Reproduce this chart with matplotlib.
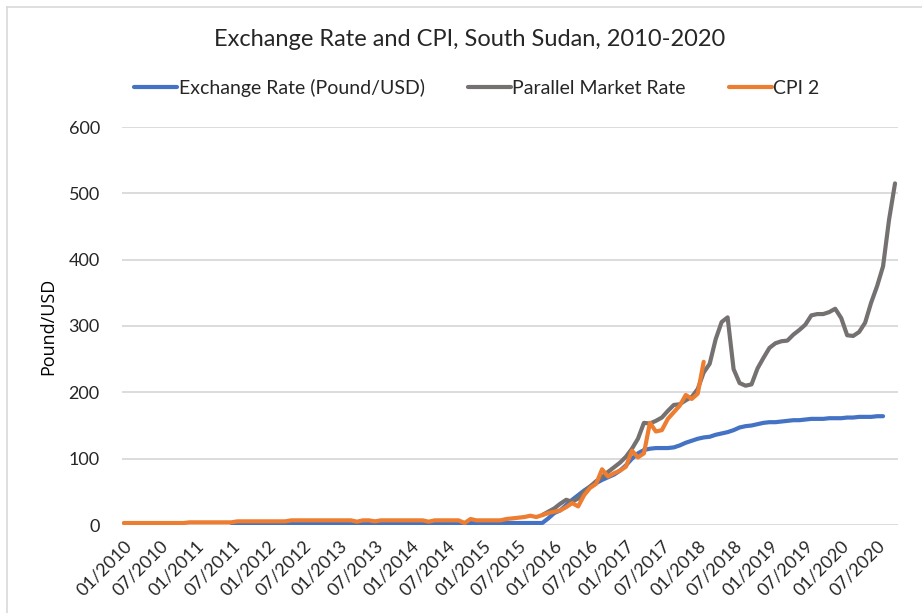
import matplotlib.pyplot as plt
import numpy as np

# monthly series, index 0 = 01/2010
months = np.arange(130)

official = [3.0] * 52 + [3, 10, 18, 22, 30, 38, 45, 52, 58, 63, 68, 72, 76, 82, 90, 100,
            108, 113, 115, 116, 116, 116, 117, 120, 124, 127, 130, 132, 133, 136, 138,
            140, 143, 147, 149, 150, 152, 154, 155, 155, 156, 157, 158, 158, 159, 160,
            160, 160, 161, 161, 161, 162, 162, 163, 163, 163, 164, 164]
official_start = 18

parallel = [15, 20, 25, 32, 38, 35, 40, 50, 58, 66, 72, 80, 87, 94, 103, 115, 130, 154,
            153, 157, 162, 172, 181, 182, 188, 193, 205, 230, 243, 280, 306, 313, 235,
            214, 210, 212, 236, 252, 267, 274, 277, 278, 287, 294, 302, 316, 318, 318,
            321, 326, 312, 286, 285, 291, 305, 335, 360, 390, 460, 515]
parallel_start = 70

cpi = ([3] * 11 + [4] * 8 + [5.5] * 9 + [7] * 11 + [5, 7, 7, 5.5] + [7] * 8 + [5]
       + [7] * 5 + [3, 9] + [7] * 5 + [9, 10, 11, 12, 14, 12, 15, 18, 20, 22, 27, 33,
       28, 45, 56, 62, 84, 73, 78, 82, 88, 112, 102, 108, 154, 141, 143, 160, 170, 180,
       196, 190, 198, 246])

tick_pos = list(range(0, 130, 6))
tick_labels = ['%02d/%d' % (1 + 6 * (k % 2), 2010 + k // 2) for k in range(len(tick_pos))]

font = 'Lato'

fig = plt.figure(figsize=(9.22, 6.13), dpi=100)
ax = fig.add_axes([122 / 922, 1 - 525 / 613, 776 / 922, 398 / 613])

# chart area border (only left/top visible in the crop)
fig.add_artist(plt.Line2D([7 / 922, 7 / 922], [0, 1 - 7 / 613], color='#d9d9d9', lw=1.2))
fig.add_artist(plt.Line2D([7 / 922, 1], [1 - 7 / 613, 1 - 7 / 613], color='#d9d9d9', lw=1.2))

ax.plot(months[official_start:official_start + len(official)], official,
        color='#4472C4', lw=3, solid_capstyle='round', label='Exchange Rate (Pound/USD)')
ax.plot(months[parallel_start:parallel_start + len(parallel)], parallel,
        color='#767171', lw=3, solid_capstyle='round', label='Parallel Market Rate')
ax.plot(months[:len(cpi)], cpi, color='#ED7D31', lw=3, solid_capstyle='round', label='CPI 2')

ax.set_xlim(-0.3, 129.5)
ax.set_ylim(0, 600)
ax.set_yticks(range(0, 601, 100))
ax.grid(axis='y', color='#d9d9d9', lw=1.3)
ax.set_axisbelow(True)
for s in ax.spines.values():
    s.set_visible(False)
ax.tick_params(length=0)
ax.tick_params(axis='x', pad=9)
ax.tick_params(axis='y', pad=16)
ax.set_xticks(tick_pos)
ax.set_xticklabels(tick_labels, rotation=45, ha='right', rotation_mode='anchor',
                   fontsize=13, family=font, color='#262626')
for t in ax.get_yticklabels():
    t.set_fontsize(13)
    t.set_family(font)
    t.set_color('#262626')

ax.set_ylabel('Pound/USD', fontsize=13, family='Open Sans', color='black', labelpad=8)

fig.text(470 / 922, 1 - 40 / 613, 'Exchange Rate and CPI, South Sudan, 2010-2020',
         ha='center', va='center', fontsize=17, family=font, color='#262626')

leg = fig.legend(loc='center', bbox_to_anchor=(477 / 922, 1 - 88 / 613), ncol=3,
                 frameon=False, handlelength=2.2, handletextpad=0.1, columnspacing=2.2,
                 prop={'family': font, 'size': 14})
for t in leg.get_texts():
    t.set_color('#262626')

fig.savefig('out.png', dpi=100)
